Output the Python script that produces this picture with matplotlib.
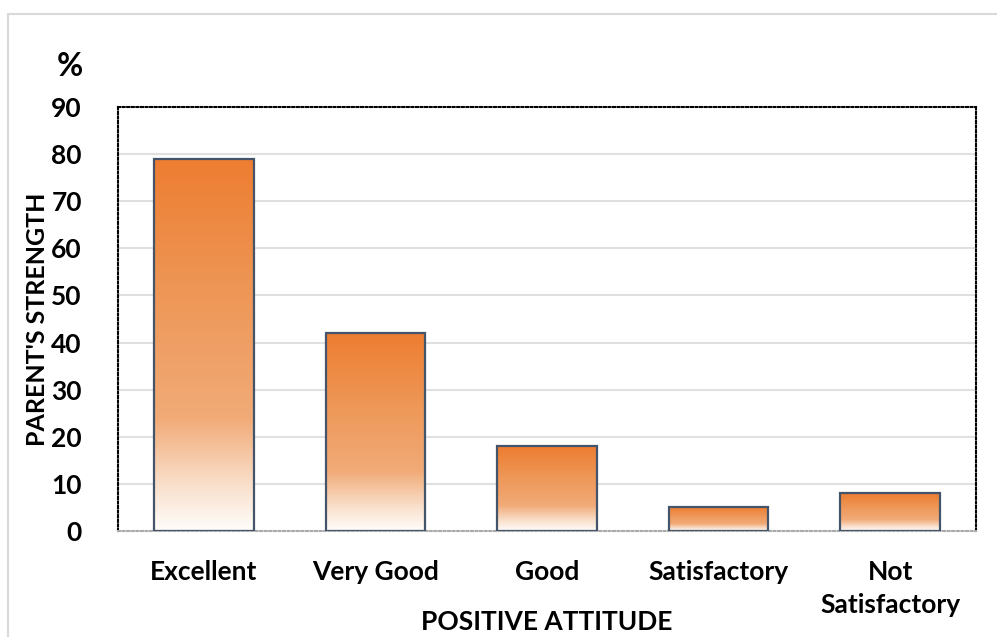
import numpy as np
import matplotlib.pyplot as plt
from matplotlib.patches import Rectangle
from matplotlib.colors import LinearSegmentedColormap

categories = ["Excellent", "Very Good", "Good", "Satisfactory", "Not\nSatisfactory"]
values = [79, 42, 18, 5, 8]
yticks = [0, 10, 20, 30, 40, 50, 60, 70, 80, 90]

plt.rcParams["font.family"] = ["Lato", "DejaVu Sans"]
plt.rcParams["font.weight"] = "bold"

fig = plt.figure(figsize=(9.97, 6.37), dpi=100)
fig.patches.append(Rectangle((8 / 997, -0.1), 1.2, 1 - 14 / 637 + 0.1, transform=fig.transFigure,
                             fill=False, edgecolor="#d9d9d9", linewidth=1.5))
ax = fig.add_axes([118 / 997, 1 - 531 / 637, 858 / 997, 424 / 637])

x = np.arange(len(categories))
bar_w = 0.58

# orange at top fading to white at bottom
grad = LinearSegmentedColormap.from_list(
    "og", [(0.0, "#fffdfb"), (0.12, "#f9e0cc"), (0.3, "#f1ab78"), (0.65, "#ee9656"), (1.0, "#ed7d31")])

for xi, v in zip(x, values):
    rect = Rectangle((xi - bar_w / 2, 0), bar_w, v, facecolor="none",
                     edgecolor="#44546a", linewidth=1.6, zorder=3)
    ax.add_patch(rect)
    img = ax.imshow(np.linspace(0, 1, 256).reshape(-1, 1), cmap=grad, origin="lower",
                    extent=(xi - bar_w / 2, xi + bar_w / 2, 0, v), aspect="auto", zorder=2)
    img.set_clip_path(rect)

ax.set_xlim(-0.5, len(categories) - 0.5)
ax.set_ylim(0, 90)
ax.set_yticks(yticks)
ax.set_xticks(x)
ax.set_xticklabels(categories, fontsize=19, linespacing=1.45, fontweight="bold")
ax.set_yticklabels([str(t) for t in yticks], fontsize=19, fontweight="bold")
ax.tick_params(axis="y", length=0, pad=26)
ax.tick_params(axis="x", length=0, pad=21)
for yv in yticks[1:-1]:
    ax.axhline(yv, color="#e0e0e0", linewidth=1.5, zorder=1)

for side in ["top", "left", "right"]:
    ax.spines[side].set_linestyle((0, (1, 1.2)))
    ax.spines[side].set_color("black")
    ax.spines[side].set_linewidth(1.5)
ax.spines["bottom"].set_linestyle((0, (1, 1.2)))
ax.spines["bottom"].set_color("#aaaaaa")
ax.spines["bottom"].set_linewidth(1.5)

ax.set_ylabel("PARENT'S STRENGTH", fontsize=18, fontweight="bold")
ax.yaxis.set_label_coords(-69 / 858, 0.5)
fig.text(547 / 997, 1 - 622 / 637, "POSITIVE ATTITUDE", fontsize=19, ha="center", va="center",
         fontweight="bold")
fig.text(70 / 997, 1 - 66 / 637, "%", fontsize=23, ha="center", va="center", fontweight="bold")

fig.savefig("out.png", dpi=100)
